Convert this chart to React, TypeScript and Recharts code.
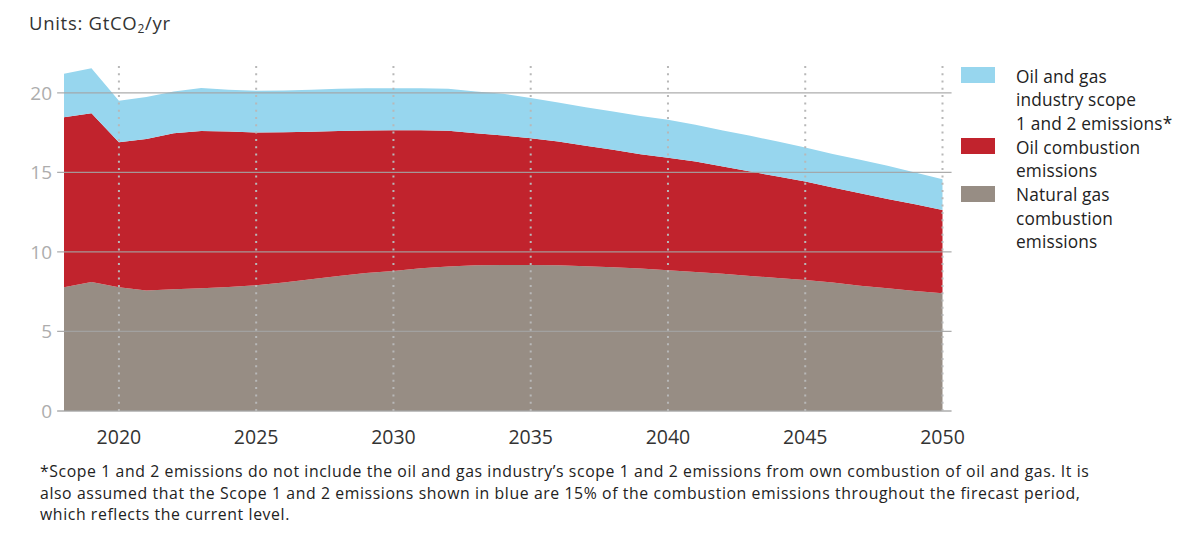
import { Area, AreaChart, ReferenceLine, XAxis, YAxis } from "recharts";

const years = [
  2018, 2019, 2020, 2021, 2022, 2023, 2024, 2025, 2026, 2027, 2028, 2029, 2030, 2031, 2032, 2033, 2034,
  2035, 2036, 2037, 2038, 2039, 2040, 2041, 2042, 2043, 2044, 2045, 2046, 2047, 2048, 2049, 2050,
];

// GtCO2/yr
const naturalGas = [
  7.78, 8.11, 7.78, 7.57, 7.65, 7.72, 7.8, 7.9, 8.07, 8.28, 8.49, 8.68, 8.8, 8.97, 9.08, 9.16, 9.18,
  9.18, 9.16, 9.1, 9.04, 8.96, 8.85, 8.74, 8.62, 8.49, 8.36, 8.24, 8.07, 7.88, 7.72, 7.55, 7.4,
];
const oilCombustion = [
  10.69, 10.61, 9.12, 9.52, 9.81, 9.88, 9.77, 9.6, 9.45, 9.28, 9.11, 8.95, 8.85, 8.67, 8.53, 8.3, 8.14,
  7.97, 7.78, 7.57, 7.38, 7.18, 7.07, 6.94, 6.75, 6.56, 6.38, 6.18, 5.98, 5.81, 5.61, 5.45, 5.24,
];
const scope12 = [
  2.73, 2.83, 2.6, 2.64, 2.62, 2.7, 2.63, 2.63, 2.63, 2.64, 2.65, 2.65, 2.64, 2.64, 2.64, 2.62, 2.62,
  2.52, 2.45, 2.42, 2.41, 2.4, 2.38, 2.31, 2.26, 2.25, 2.2, 2.14, 2.11, 2.1, 2.08, 1.99, 1.93,
];

const xTicks = [2020, 2025, 2030, 2035, 2040, 2045, 2050];
const yTicks = [0, 5, 10, 15, 20];

const legendItems = [
  { color: "#97d6ee", lines: ["Oil and gas", "industry scope", "1 and 2 emissions*"] },
  { color: "#c1232d", lines: ["Oil combustion", "emissions"] },
  { color: "#978d84", lines: ["Natural gas", "combustion", "emissions"] },
];

const footnote = [
  "*Scope 1 and 2 emissions do not include the oil and gas industry\u2019s scope 1 and 2 emissions from own combustion of oil and gas. It is",
  "also assumed that the Scope 1 and 2 emissions shown in blue are 15% of the combustion emissions throughout the firecast period,",
  "which reflects the current level.",
];

const data = years.map((year, i) => ({
  year,
  gas: naturalGas[i],
  oil: oilCombustion[i],
  scope: scope12[i],
}));

const FONT = "'Open Sans', Lato, sans-serif";

export default function App() {
  return (
    <div
      style={{
        position: "absolute",
        left: 0,
        top: 0,
        width: 1200,
        height: 539,
        background: "#fff",
        overflow: "hidden",
        fontFamily: FONT,
        color: "#222",
      }}
    >
      <div
        style={{
          position: "absolute",
          left: 29,
          top: 10,
          fontSize: 18.5,
          lineHeight: "26px",
          letterSpacing: 0.7,
          color: "#333",
        }}
      >
        Units: GtCO<sub style={{ fontSize: 12, verticalAlign: "-3px" }}>2</sub>/yr
      </div>

      <AreaChart
        width={1200}
        height={470}
        data={data}
        margin={{ top: 61, right: 257.5, bottom: 0, left: 4 }}
        style={{ position: "absolute", left: 0, top: 0 }}
      >
        <XAxis
          dataKey="year"
          type="number"
          domain={[2018, 2050]}
          ticks={xTicks}
          axisLine={false}
          tickLine={false}
          tickMargin={13}
          height={59}
          tick={{ fill: "#333", fontSize: 19.5, fontFamily: FONT }}
        />
        <YAxis
          domain={[0, 22]}
          ticks={yTicks}
          axisLine={false}
          tickLine={false}
          tickMargin={6}
          width={60}
          tick={{ fill: "#adadad", fontSize: 19, fontFamily: FONT }}
        />
        <Area dataKey="gas" stackId="1" type="linear" stroke="none" fill="#978d84" fillOpacity={1} isAnimationActive={false} />
        <Area dataKey="oil" stackId="1" type="linear" stroke="none" fill="#c1232d" fillOpacity={1} isAnimationActive={false} />
        <Area dataKey="scope" stackId="1" type="linear" stroke="none" fill="#97d6ee" fillOpacity={1} isAnimationActive={false} />
        {yTicks.map((v) => (
          <ReferenceLine
            key={`h${v}`}
            segment={[
              { x: 2017.75, y: v },
              { x: 2050.33, y: v },
            ]}
            ifOverflow="visible"
            stroke="#a3a3a3"
            strokeWidth={1.3}
            strokeOpacity={0.9}
          />
        ))}
        {xTicks.map((t) => (
          <ReferenceLine
            key={`v${t}`}
            x={t}
            ifOverflow="visible"
            stroke="#b8b8b8"
            strokeWidth={2}
            strokeDasharray="2 5.3"
          />
        ))}
      </AreaChart>

      {legendItems.map((item, gi) => {
        const startLine = legendItems.slice(0, gi).reduce((n, it) => n + it.lines.length, 0);
        return (
          <div key={gi}>
            <div
              style={{
                position: "absolute",
                left: 961,
                top: 67 + startLine * 23.7,
                width: 34,
                height: 16,
                background: item.color,
              }}
            />
            <div
              style={{
                position: "absolute",
                left: 1016,
                top: 64.5 + startLine * 23.7,
                fontSize: 17.3,
                lineHeight: "23.7px",
                letterSpacing: 0.15,
                color: "#222",
                whiteSpace: "nowrap",
              }}
            >
              {item.lines.map((l, li) => (
                <div key={li}>{l}</div>
              ))}
            </div>
          </div>
        );
      })}

      <div
        style={{
          position: "absolute",
          left: 40,
          top: 461.4,
          fontSize: 15.8,
          lineHeight: "21.5px",
          letterSpacing: 0.6,
          color: "#222",
          whiteSpace: "nowrap",
        }}
      >
        {footnote.map((l, i) => (
          <div key={i}>{l}</div>
        ))}
      </div>
    </div>
  );
}
